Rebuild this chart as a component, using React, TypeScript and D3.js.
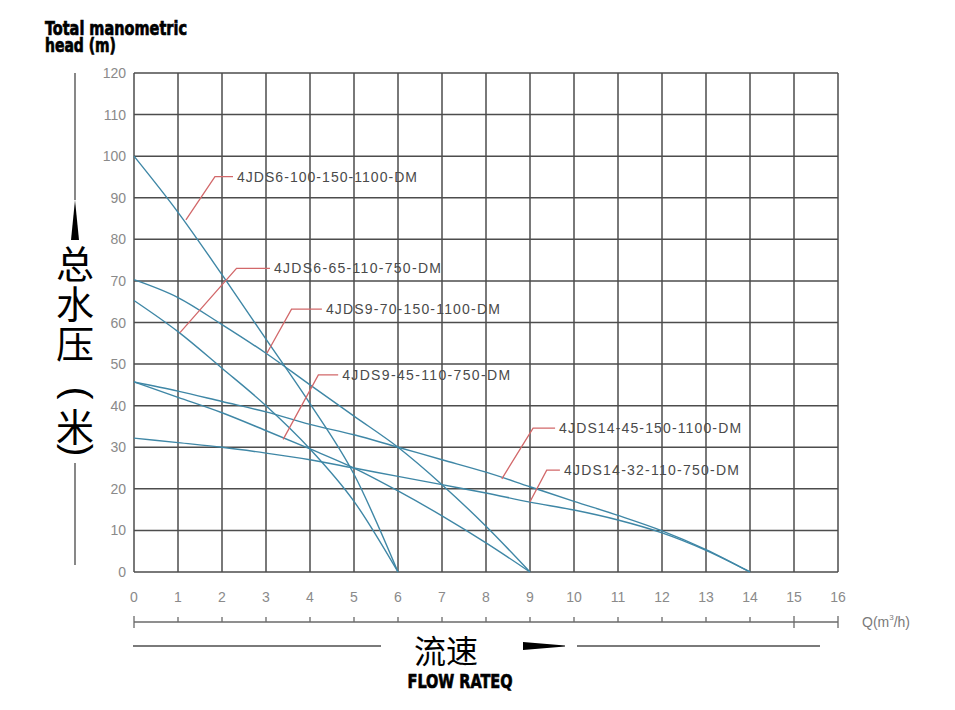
import React from "react";
import * as d3 from "d3";

// ---------- data ----------
const xTicks = d3.range(0, 17);
const yTicks = d3.range(0, 121, 10);

const q6 = [0, 1, 2, 3, 4, 5, 6];
const h_6_100 = [100, 86.5, 71.5, 56, 40.5, 23.5, 0];
const h_6_65 = [65.3, 57.8, 49, 40, 29.6, 17, 0];

const q9 = [0, 1, 2, 3, 4, 5, 6, 7, 8, 9];
const h_9_70 = [70.3, 66, 59.5, 52.6, 45, 37.5, 30, 21, 11, 0];
const h_9_45 = [45.7, 42, 38.3, 34, 29.6, 25, 19.5, 13.5, 7, 0];

const q14 = [0, 1, 2, 3, 4, 5, 6, 7, 8, 9, 10, 11, 12, 13, 14];
const h_14_45 = [45.7, 43.5, 41, 38.5, 35.5, 33, 30, 27, 24, 20.5, 17, 13.6, 9.9, 5.4, 0];
const h_14_32 = [32.2, 31.1, 30, 28.6, 27, 25, 23, 21, 19, 16.8, 14.9, 12.5, 9.4, 5.2, 0];

const seriesNames = [
  "4JDS6-100-150-1100-DM",
  "4JDS6-65-110-750-DM",
  "4JDS9-70-150-1100-DM",
  "4JDS9-45-110-750-DM",
  "4JDS14-45-150-1100-DM",
  "4JDS14-32-110-750-DM",
];
const seriesQ = [q6, q6, q9, q9, q14, q14];
const seriesH = [h_6_100, h_6_65, h_9_70, h_9_45, h_14_45, h_14_32];

// leader anchor on curve, elbow, end of horizontal (data units)
const anchorQ = [1.18, 1.045, 3.02, 3.39, 8.36, 9.0];
const anchorH = [84.7, 57.55, 52.6, 31.9, 22.4, 16.9];
const elbowQ = [1.84, 2.33, 3.58, 4.19, 9.07, 9.38];
const elbowH = [95.1, 73.0, 63.2, 47.4, 34.6, 24.5];
const endQ = [2.25, 3.09, 4.27, 4.64, 9.57, 9.68];
const labelWidths = [180, 167, 174, 168, 182, 175];

const W = 955;
const H = 710;

export default function App() {
  const x = d3.scaleLinear().domain([0, 16]).range([134, 838]);
  const y = d3.scaleLinear().domain([0, 120]).range([572, 73]);

  const line = d3
    .line<[number, number]>()
    .x((d) => x(d[0]))
    .y((d) => y(d[1]))
    .curve(d3.curveMonotoneX);

  const gridColor = "#4d4d4d";
  const tickColor = "#8a8a8a";
  const curveColor = "#3f87a6";
  const leaderColor = "#d2686a";
  const axisY = 622;
  const arrowY = 646;
  const heavy = "'DejaVu Sans Condensed', 'DejaVu Sans', sans-serif";

  return (
    <svg
      width={W}
      height={H}
      style={{ position: "absolute", left: 0, top: 0, background: "#fff" }}
      fontFamily="'Liberation Sans', Arial, sans-serif"
    >
      <rect x={0} y={0} width={W} height={H} fill="#fff" />

      {/* title */}
      <text
        fontFamily={heavy}
        fontWeight="bold"
        fontSize={20}
        fill="#000"
        stroke="#000"
        strokeWidth={0.7}
      >
        <tspan x={45} y={35} textLength={142} lengthAdjust="spacingAndGlyphs">
          Total manometric
        </tspan>
        <tspan x={45} y={52} textLength={71} lengthAdjust="spacingAndGlyphs">
          head (m)
        </tspan>
      </text>

      {/* grid */}
      {yTicks.map((t) => (
        <line
          key={"gy" + t}
          x1={x(0)}
          x2={x(16)}
          y1={y(t)}
          y2={y(t)}
          stroke={gridColor}
          strokeWidth={1.5}
        />
      ))}
      {xTicks.map((t) => (
        <line
          key={"gx" + t}
          x1={x(t)}
          x2={x(t)}
          y1={y(0)}
          y2={y(120)}
          stroke={gridColor}
          strokeWidth={1.5}
        />
      ))}

      {/* y tick labels */}
      {yTicks.map((t) => (
        <text
          key={"yl" + t}
          x={126}
          y={y(t)}
          textAnchor="end"
          dominantBaseline="central"
          fontSize={14}
          fill={tickColor}
        >
          {t}
        </text>
      ))}

      {/* x tick labels */}
      {xTicks.map((t) => (
        <text
          key={"xl" + t}
          x={x(t)}
          y={597}
          textAnchor="middle"
          dominantBaseline="central"
          fontSize={14}
          fill={tickColor}
        >
          {t}
        </text>
      ))}

      {/* curves */}
      {seriesH.map((hs, i) => (
        <path
          key={"c" + i}
          d={line(hs.map((h, j) => [seriesQ[i][j], h] as [number, number])) || ""}
          fill="none"
          stroke={curveColor}
          strokeWidth={1.4}
        />
      ))}

      {/* leaders + labels */}
      {seriesNames.map((name, i) => (
        <g key={"lab" + i}>
          <polyline
            points={`${x(anchorQ[i])},${y(anchorH[i])} ${x(elbowQ[i])},${y(elbowH[i])} ${x(endQ[i])},${y(elbowH[i])}`}
            fill="none"
            stroke={leaderColor}
            strokeWidth={1.3}
          />
          <text
            x={x(endQ[i]) + 4}
            y={y(elbowH[i])}
            dominantBaseline="central"
            fontSize={14}
            fill="#4a4a4a"
            textLength={labelWidths[i]}
            lengthAdjust="spacing"
          >
            {name}
          </text>
        </g>
      ))}

      {/* bottom axis */}
      <line x1={x(0)} x2={x(16)} y1={axisY} y2={axisY} stroke="#6a6a6a" strokeWidth={1.3} />
      {xTicks.map((t) => {
        const full = t === 0 || t === 15 || t === 16;
        return (
          <line
            key={"bt" + t}
            x1={x(t)}
            x2={x(t)}
            y1={full ? axisY - 6 : axisY - 5}
            y2={full ? axisY + 6 : axisY}
            stroke="#6a6a6a"
            strokeWidth={1.3}
          />
        );
      })}
      <text x={862} y={axisY} dominantBaseline="central" fontSize={14} fill="#7a7a7a">
        Q(m<tspan dy={-5} fontSize={8}>3</tspan>
        <tspan dy={5}>/h)</tspan>
      </text>

      {/* flow rate arrow */}
      <line x1={133} x2={381} y1={arrowY} y2={arrowY} stroke="#7a7a7a" strokeWidth={2} />
      <line x1={577} x2={820} y1={arrowY} y2={arrowY} stroke="#7a7a7a" strokeWidth={2} />
      <path
        d={`M523,${arrowY - 4} L565,${arrowY - 0.6} L565,${arrowY + 0.6} L523,${arrowY + 4} Z`}
        fill="#000"
      />
      <text fill="#000" textAnchor="middle">
        <tspan
          x={446}
          y={663}
          fontFamily="'Noto Sans CJK SC', sans-serif"
          fontSize={32}
        >
          流速
        </tspan>
        <tspan
          x={460}
          y={688}
          fontFamily={heavy}
          fontWeight="bold"
          fontSize={20}
          textLength={105}
          lengthAdjust="spacingAndGlyphs"
          stroke="#000"
          strokeWidth={0.7}
        >
          FLOW RATEQ
        </tspan>
      </text>

      {/* y-axis label */}
      <line x1={75} x2={75} y1={73} y2={200} stroke="#6a6a6a" strokeWidth={1.6} />
      <path d="M75,200 L79,240 L71,240 Z" fill="#000" />
      <text
        x={75}
        y={245}
        style={{ writingMode: "vertical-rl" as any }}
        fontFamily="'Noto Sans CJK SC', sans-serif"
        fontSize={38}
        letterSpacing={2}
        fill="#000"
      >
        总水压
      </text>
      <text
        x={75}
        y={424.5}
        textAnchor="middle"
        dominantBaseline="central"
        fontFamily="'Noto Sans CJK SC', sans-serif"
        fontSize={38}
        fill="#000"
      >
        米
      </text>
      <text
        transform="translate(78,393) rotate(90)"
        textAnchor="middle"
        dominantBaseline="central"
        fontFamily="'Liberation Sans', sans-serif"
        fontSize={38}
        fill="#000"
      >
        (
      </text>
      <text
        transform="translate(78,450) rotate(90)"
        textAnchor="middle"
        dominantBaseline="central"
        fontFamily="'Liberation Sans', sans-serif"
        fontSize={38}
        fill="#000"
      >
        )
      </text>
      <line x1={75} x2={75} y1={463} y2={565} stroke="#6a6a6a" strokeWidth={1.6} />
    </svg>
  );
}
